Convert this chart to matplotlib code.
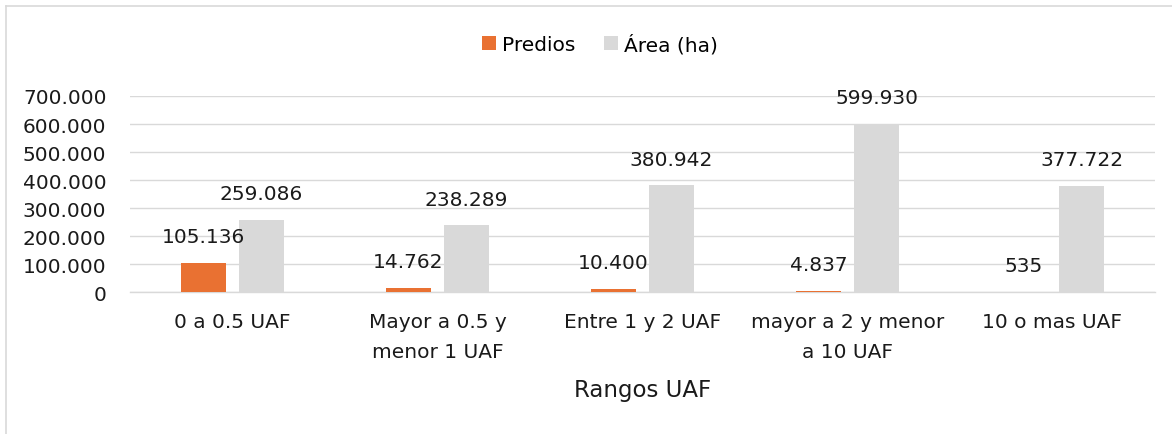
import matplotlib.pyplot as plt
import numpy as np
from matplotlib.lines import Line2D


# Chart data
categories = ['0 a 0.5 UAF', 'Mayor a 0.5 y\nmenor 1 UAF', 'Entre 1 y 2 UAF',
              'mayor a 2 y menor\na 10 UAF', '10 o mas UAF']
predios = [105136, 14762, 10400, 4837, 535]
area_ha = [259086, 238289, 380942, 599930, 377722]
series_names = ['Predios', 'Área (ha)']
y_ticks = [0, 100000, 200000, 300000, 400000, 500000, 600000, 700000]

# Style
ORANGE = '#E97132'
GRAY = '#D9D9D9'
GRID = '#D9D9D9'
FONT = 14.5
W, H = 1172, 435


def fmt(v):
    """Thousands with dot separator."""
    return '{:,}'.format(int(v)).replace(',', '.')


def main():
    plt.rcParams['font.family'] = ['DejaVu Sans']

    fig = plt.figure(figsize=(W / 100, H / 100), dpi=100)
    ax = fig.add_axes([130 / W, 1 - 293.3 / H, 1025 / W, (293.3 - 97) / H])

    x = np.arange(len(categories))
    width = 0.222
    off = 0.142

    b1 = ax.bar(x - off, predios, width, color=ORANGE, label=series_names[0],
                zorder=3)
    b2 = ax.bar(x + off, area_ha, width, color=GRAY, label=series_names[1],
                zorder=3)

    for bars, vals in ((b1, predios), (b2, area_ha)):
        for rect, v in zip(bars, vals):
            ax.annotate(fmt(v),
                        (rect.get_x() + rect.get_width() / 2, v),
                        xytext=(0, 19), textcoords='offset points',
                        ha='center', va='center', fontsize=FONT,
                        color='#1a1a1a', zorder=4)

    ax.set_xlim(-0.5, len(categories) - 0.5)
    ax.set_ylim(0, 700000)
    ax.set_yticks(y_ticks)
    ax.set_yticklabels([fmt(t) for t in y_ticks])
    ax.set_xticks(x)
    ax.set_xticklabels(categories, linespacing=1.75)

    ax.grid(axis='y', color=GRID, linewidth=1.0, zorder=0)
    for side in ('top', 'right', 'left'):
        ax.spines[side].set_visible(False)
    ax.spines['bottom'].set_color(GRID)
    ax.spines['bottom'].set_linewidth(1.0)

    ax.tick_params(axis='y', length=0, pad=17, labelsize=FONT,
                   labelcolor='#1a1a1a')
    ax.tick_params(axis='x', length=0, pad=14, labelsize=FONT,
                   labelcolor='#1a1a1a')

    ax.set_xlabel('Rangos UAF', fontsize=16.5, color='#1a1a1a', labelpad=12)

    fig.legend(loc='center', bbox_to_anchor=(600 / W, 1 - 45 / H),
               ncol=2, frameon=False, fontsize=FONT, handlelength=0.7,
               handleheight=0.7, handletextpad=0.3, columnspacing=1.4)

    # Chart area border (only left and top visible)
    fig.add_artist(Line2D([6 / W, 6 / W], [0, 1 - 7 / H], color=GRID,
                          linewidth=1.2, transform=fig.transFigure))
    fig.add_artist(Line2D([6 / W, 1], [1 - 7 / H, 1 - 7 / H], color=GRID,
                          linewidth=1.2, transform=fig.transFigure))

    fig.savefig('out.png', dpi=100)
    plt.close('all')


if __name__ == '__main__':
    main()
